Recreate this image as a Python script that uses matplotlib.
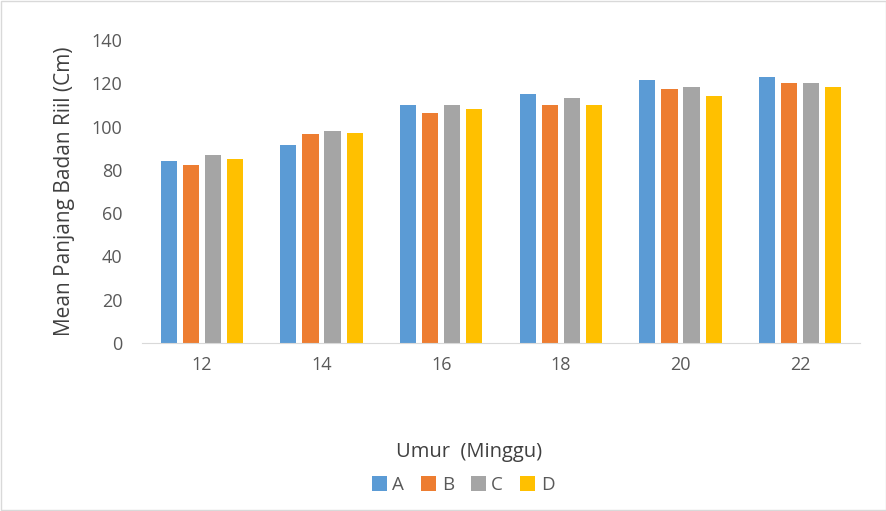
import numpy as np
import matplotlib
matplotlib.use('Agg')
import matplotlib.pyplot as plt
from matplotlib.patches import Rectangle

plt.rcParams['font.family'] = ['Open Sans', 'DejaVu Sans']

umur = ['12', '14', '16', '18', '20', '22']
seri = ['A', 'B', 'C', 'D']
nilai_a = [84, 91.5, 110, 115, 121.3, 123]
nilai_b = [82.2, 96.5, 106.3, 110, 117.5, 120.3]
nilai_c = [86.8, 98, 110, 113, 118.3, 120.3]
nilai_d = [85, 97, 108.3, 110, 114, 118.3]
warna = ['#5B9BD5', '#ED7D31', '#A5A5A5', '#FFC000']

fig = plt.figure(figsize=(8.87, 5.11), dpi=100)
ax = fig.add_axes([142 / 887, 1 - 343 / 511, 718 / 887, 303 / 511])

x = np.arange(len(umur))
lebar = 0.135
langkah = 0.185
for i, (nama, data) in enumerate(zip(seri, [nilai_a, nilai_b, nilai_c, nilai_d])):
    ax.bar(x + (i - 1.5) * langkah, data, width=lebar, color=warna[i],
           label=nama, zorder=2)

ax.set_xlim(-0.5, len(umur) - 0.5)
ax.set_ylim(0, 140)
ax.set_yticks(range(0, 141, 20))
ax.set_xticks(x)
ax.set_xticklabels(umur)
for s in ['top', 'right', 'left']:
    ax.spines[s].set_visible(False)
ax.spines['bottom'].set_color('#D9D9D9')
ax.tick_params(axis='both', length=0, labelsize=13, colors='#595959', pad=9)
ax.tick_params(axis='y', pad=14)

ax.set_ylabel('Mean Panjang Badan Riil (Cm)', fontsize=15, color='#404040', labelpad=12)
fig.text(0.529, 1 - 452 / 511, 'Umur  (Minggu)', ha='center', va='center',
         fontsize=14.5, color='#404040')

fig.legend(loc='center', bbox_to_anchor=(0.522, 1 - 485 / 511), ncol=4,
           frameon=False, fontsize=13.5, handlelength=0.8, handleheight=0.8,
           handletextpad=0.3, columnspacing=0.9, labelcolor='#595959')

# bingkai tipis di sekeliling gambar
fig.patches.append(Rectangle((0.001, 0.001), 0.998, 0.997, transform=fig.transFigure,
                             fill=False, edgecolor='#D9D9D9', linewidth=1))

fig.savefig('out.png', dpi=100)
